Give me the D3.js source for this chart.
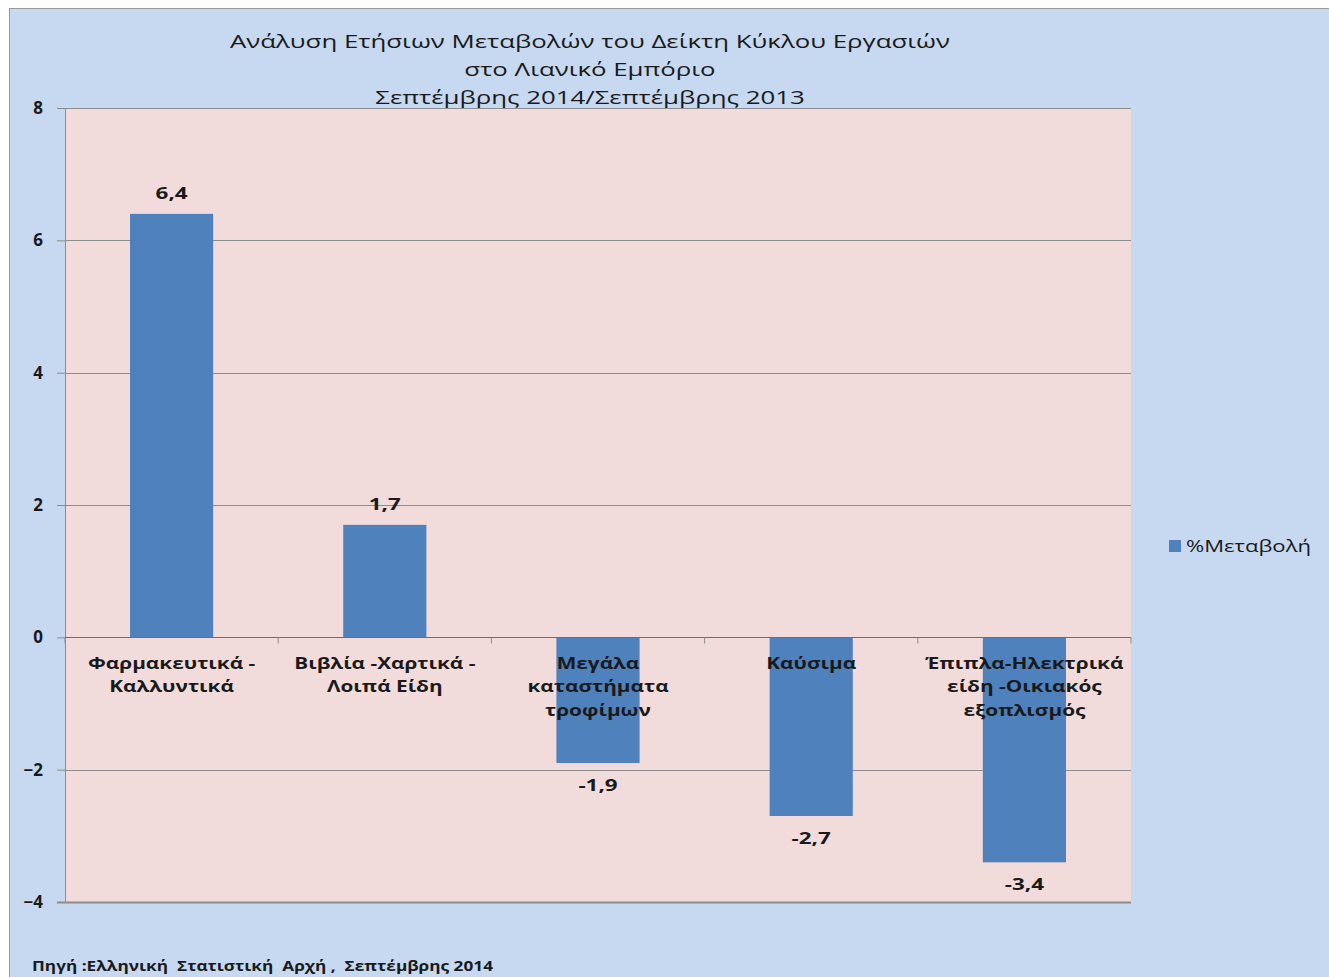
<!DOCTYPE html>
<html>
<head>
<meta charset="utf-8">
<script src="https://cdn.jsdelivr.net/npm/d3@7"></script>
<style>
  body { margin: 0; background: #fff; }
  svg text { font-family: "Open Sans", sans-serif; fill: #1a1a1a; }
</style>
</head>
<body>
<svg id="chart" width="1329" height="977"></svg>
<script>
// data
var categories = [
    [ 'Φαρμακευτικά -', 'Καλλυντικά' ],
    [ 'Βιβλία -Χαρτικά -', 'Λοιπά Είδη' ],
    [ 'Μεγάλα', 'καταστήματα', 'τροφίμων' ],
    [ 'Καύσιμα' ],
    [ 'Έπιπλα-Ηλεκτρικά', 'είδη -Οικιακός', 'εξοπλισμός' ]
];
var values = [ 6.4, 1.7, -1.9, -2.7, -3.4 ];
var yTicks = [ -4, -2, 0, 2, 4, 6, 8 ];
var titleLines = [
    'Ανάλυση Ετήσιων Μεταβολών του Δείκτη Κύκλου Εργασιών',
    'στο Λιανικό Εμπόριο',
    'Σεπτέμβρης 2014/Σεπτέμβρης 2013'
];
var seriesName = '%Μεταβολή';
var sourceText = 'Πηγή :Ελληνική  Στατιστική  Αρχή ,  Σεπτέμβρης 2014';

var svg = d3.select( '#chart' ),
    plot = { left: 65, right: 1131, top: 108, bottom: 902 },
    barColor = '#4f81bd';

// the original text is horizontally stretched, so glyphs get a scaleX
function stretch( px, py, s ) {
    return 'translate(' + px + ',' + py + ') scale(' + s + ',1)';
}

// outer chart area
svg.append( 'rect' )
    .attr( 'x', 9.5 ).attr( 'y', 8.5 )
    .attr( 'width', 1340 ).attr( 'height', 1000 )
    .attr( 'fill', '#c6d9f1' )
    .attr( 'stroke', '#9a9a9a' );

var x = d3.scaleBand()
    .domain( d3.range( categories.length ) )
    .range( [ plot.left, plot.right ] )
    .paddingInner( 0.61 )
    .paddingOuter( 0.305 );

var y = d3.scaleLinear()
    .domain( [ -4, 8 ] )
    .range( [ plot.bottom, plot.top ] );

svg.append( 'rect' )
    .attr( 'x', plot.left ).attr( 'y', plot.top )
    .attr( 'width', plot.right - plot.left )
    .attr( 'height', plot.bottom - plot.top )
    .attr( 'fill', '#f2dcdb' );

// gridlines
svg.append( 'g' ).selectAll( 'line' )
    .data( yTicks.filter( function( d ) { return d !== -4 && d !== 0; } ) )
    .join( 'line' )
    .attr( 'x1', plot.left ).attr( 'x2', plot.right )
    .attr( 'y1', function( d ) { return Math.round( y( d ) ) + 0.5; } )
    .attr( 'y2', function( d ) { return Math.round( y( d ) ) + 0.5; } )
    .attr( 'stroke', '#8c8c8c' );

// bars
svg.append( 'g' ).selectAll( 'rect' )
    .data( values )
    .join( 'rect' )
    .attr( 'x', function( d, i ) { return x( i ); } )
    .attr( 'width', x.bandwidth() )
    .attr( 'y', function( d ) { return y( Math.max( 0, d ) ); } )
    .attr( 'height', function( d ) { return Math.abs( y( d ) - y( 0 ) ); } )
    .attr( 'fill', barColor );

// y axis
var yAxis = svg.append( 'g' )
    .attr( 'transform', 'translate(' + plot.left + ',0)' )
    .call( d3.axisLeft( y ).tickValues( yTicks ).tickSize( 8 ).tickPadding( 14 ) );
yAxis.select( '.domain' ).attr( 'stroke', '#8c8c8c' ).attr( 'd', 'M0.5,' + plot.top + 'V' + plot.bottom );
yAxis.selectAll( '.tick line' ).attr( 'stroke', '#8c8c8c' );
yAxis.selectAll( '.tick text' )
    .style( 'font-size', '17px' ).style( 'font-weight', 'bold' )
    .attr( 'fill', '#1a1a1a' );

// bottom axis line at -4
svg.append( 'line' )
    .attr( 'x1', plot.left - 8 ).attr( 'x2', plot.right )
    .attr( 'y1', plot.bottom + 0.5 ).attr( 'y2', plot.bottom + 0.5 )
    .attr( 'stroke', '#8c8c8c' ).attr( 'stroke-width', 2 );

// category axis at zero
var zero = Math.round( y( 0 ) ) + 0.5;
svg.append( 'line' )
    .attr( 'x1', plot.left ).attr( 'x2', plot.right )
    .attr( 'y1', zero ).attr( 'y2', zero )
    .attr( 'stroke', '#6e6e6e' );

var step = x.step();
svg.append( 'g' ).selectAll( 'line' )
    .data( d3.range( categories.length + 1 ) )
    .join( 'line' )
    .attr( 'x1', function( i ) { return plot.left + i * step; } )
    .attr( 'x2', function( i ) { return plot.left + i * step; } )
    .attr( 'y1', zero ).attr( 'y2', zero + 6 )
    .attr( 'stroke', '#8c8c8c' );

var catLabels = svg.append( 'g' ).selectAll( 'text' )
    .data( categories )
    .join( 'text' )
    .attr( 'text-anchor', 'middle' )
    .attr( 'transform', function( d, i ) { return stretch( x( i ) + x.bandwidth() / 2, zero + 31, 1.3 ); } )
    .style( 'font-size', '16px' ).style( 'font-weight', 'bold' );
catLabels.selectAll( 'tspan' )
    .data( function( d ) { return d; } )
    .join( 'tspan' )
    .attr( 'x', 0 )
    .attr( 'dy', function( d, j ) { return j ? 24 : 0; } )
    .text( function( d ) { return d; } );

// data labels
svg.append( 'g' ).selectAll( 'text' )
    .data( values )
    .join( 'text' )
    .attr( 'text-anchor', 'middle' )
    .attr( 'transform', function( d, i ) {
        return stretch( x( i ) + x.bandwidth() / 2, d >= 0 ? y( d ) - 15 : y( d ) + 28, 1.4 );
    } )
    .style( 'font-size', '16px' ).style( 'font-weight', 'bold' )
    .text( function( d ) { return String( d ).replace( '.', ',' ); } );

// title
svg.append( 'g' ).selectAll( 'text' )
    .data( titleLines )
    .join( 'text' )
    .attr( 'text-anchor', 'middle' )
    .attr( 'transform', function( d, i ) { return stretch( 590, 48 + i * 28, 1.36 ); } )
    .style( 'font-size', '19px' )
    .text( function( d ) { return d; } );

// legend
svg.append( 'rect' )
    .attr( 'x', 1169 ).attr( 'y', 540 )
    .attr( 'width', 12 ).attr( 'height', 12 )
    .attr( 'fill', barColor );
svg.append( 'text' )
    .attr( 'transform', stretch( 1186, 552, 1.38 ) )
    .style( 'font-size', '16px' )
    .text( seriesName );

// source note
svg.append( 'text' )
    .attr( 'transform', stretch( 32, 971, 1.23 ) )
    .style( 'font-size', '14px' ).style( 'font-weight', 'bold' )
    .style( 'white-space', 'pre' )
    .text( sourceText );
</script>
</body>
</html>
